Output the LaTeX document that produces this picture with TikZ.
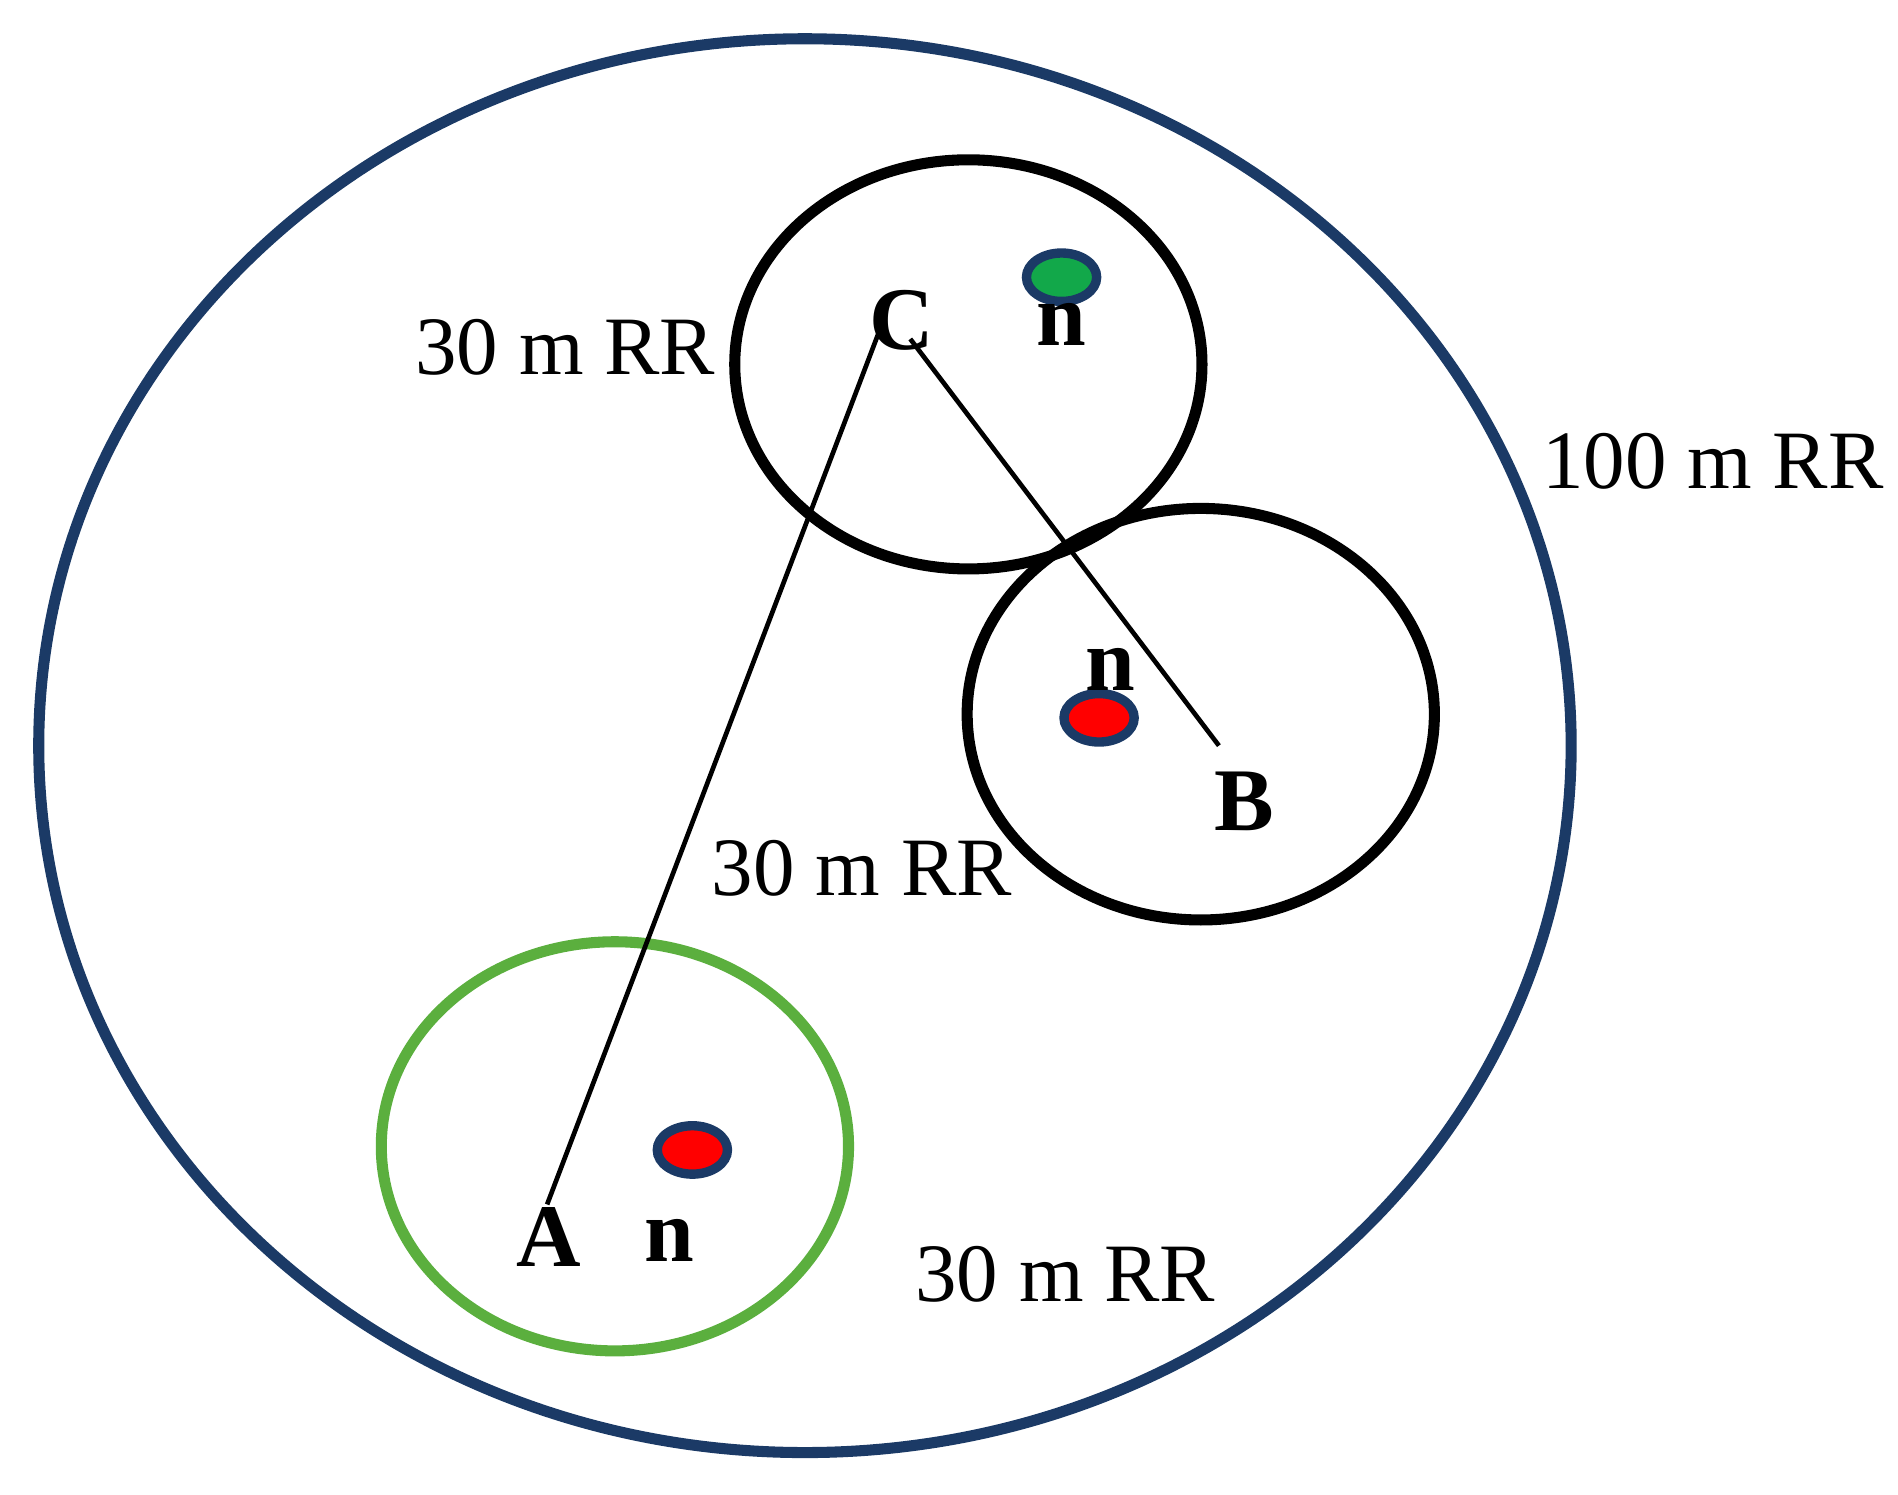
\documentclass[tikz,border=0pt]{standalone}
\usepackage{fontspec}
\setmainfont{Liberation Serif}
\begin{document}
\begin{tikzpicture}[x=0.01cm,y=-0.01cm,
  ring/.style={line width=2.6pt},
  dot/.style={draw=navy,line width=2.2pt},
  lbl/.style={font=\fontsize{19.5}{22}\selectfont},
  let/.style={font=\fontsize{21}{24}\selectfont\bfseries}]
\definecolor{navy}{HTML}{1B3A66}
\definecolor{grn}{HTML}{5BAF3E}
\definecolor{dgrn}{HTML}{12A84A}
\useasboundingbox (0,0) rectangle (1568,1235);
\draw[ring,navy] (665,616) ellipse [x radius=633,y radius=584];
\draw[ring] (800,301) ellipse [x radius=193,y radius=169];
\draw[ring] (992,590) ellipse [x radius=193,y radius=170];
\draw[ring,grn] (508,947) ellipse [x radius=193,y radius=169];
\fill[dgrn] (877,229) ellipse [x radius=29,y radius=20];
\draw[dot] (877,229) ellipse [x radius=29,y radius=20];
\fill[red] (908,593) ellipse [x radius=29,y radius=20];
\draw[dot] (908,593) ellipse [x radius=29,y radius=20];
\fill[red] (572,950) ellipse [x radius=29,y radius=20];
\draw[dot] (572,950) ellipse [x radius=29,y radius=20];
\coordinate (c1) at (727,272);
\coordinate (c2) at (752,280);
\coordinate (a) at (452,995);
\coordinate (b) at (1007,616);
\draw[line width=1.1pt] (c1) -- (a);
\draw[line width=1.1pt] (c2) -- (b);
\node[lbl] (l1) at (467,287) {30 m RR};
\node[lbl] (l2) at (1415,381) {100 m RR};
\node[lbl] (l3) at (712,717) {30 m RR};
\node[lbl] (l4) at (880,1053) {30 m RR};
\node[let] (C) at (745,265) {C};
\node[let] (n1) at (877,268) {n};
\node[let] (n2) at (917,553) {n};
\node[let] (B) at (1028,662) {B};
\node[let] (A) at (453,1022) {A};
\node[let] (n3) at (553,1025) {n};
\end{tikzpicture}
\end{document}
